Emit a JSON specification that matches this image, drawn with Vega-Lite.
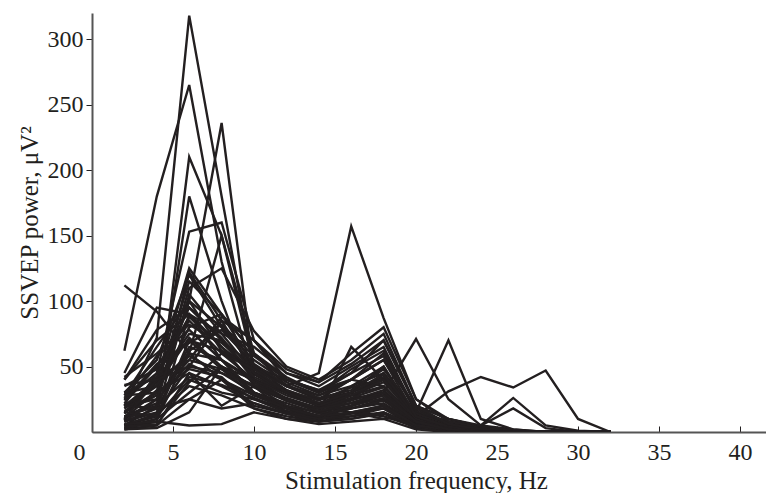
{
  "$schema": "https://vega.github.io/schema/vega-lite/v6.json",
  "width": 674,
  "height": 419,
  "autosize": "none",
  "padding": {"left": 92, "top": 13, "right": 0, "bottom": 61},
  "background": "white",
  "config": {"view": {"stroke": null}, "font": "Liberation Serif"},
  "data": {"values": [
{"s":1,"f":2,"v":20},{"s":1,"f":4,"v":72},{"s":1,"f":6,"v":318},{"s":1,"f":8,"v":180},{"s":1,"f":10,"v":45},{"s":1,"f":12,"v":30},{"s":1,"f":14,"v":20},{"s":1,"f":16,"v":35},{"s":1,"f":18,"v":50},{"s":1,"f":20,"v":10},{"s":1,"f":22,"v":5},{"s":1,"f":24,"v":2},{"s":1,"f":26,"v":1},{"s":1,"f":28,"v":0},{"s":1,"f":30,"v":0},{"s":1,"f":32,"v":0},
{"s":2,"f":2,"v":62},{"s":2,"f":4,"v":180},{"s":2,"f":6,"v":265},{"s":2,"f":8,"v":130},{"s":2,"f":10,"v":40},{"s":2,"f":12,"v":25},{"s":2,"f":14,"v":15},{"s":2,"f":16,"v":20},{"s":2,"f":18,"v":30},{"s":2,"f":20,"v":8},{"s":2,"f":22,"v":3},{"s":2,"f":24,"v":1},{"s":2,"f":26,"v":0},{"s":2,"f":28,"v":0},{"s":2,"f":30,"v":0},{"s":2,"f":32,"v":0},
{"s":3,"f":2,"v":15},{"s":3,"f":4,"v":30},{"s":3,"f":6,"v":100},{"s":3,"f":8,"v":236},{"s":3,"f":10,"v":44},{"s":3,"f":12,"v":30},{"s":3,"f":14,"v":20},{"s":3,"f":16,"v":25},{"s":3,"f":18,"v":45},{"s":3,"f":20,"v":12},{"s":3,"f":22,"v":5},{"s":3,"f":24,"v":2},{"s":3,"f":26,"v":0},{"s":3,"f":28,"v":0},{"s":3,"f":30,"v":0},{"s":3,"f":32,"v":0},
{"s":4,"f":2,"v":5},{"s":4,"f":4,"v":12},{"s":4,"f":6,"v":210},{"s":4,"f":8,"v":150},{"s":4,"f":10,"v":50},{"s":4,"f":12,"v":35},{"s":4,"f":14,"v":25},{"s":4,"f":16,"v":40},{"s":4,"f":18,"v":60},{"s":4,"f":20,"v":15},{"s":4,"f":22,"v":8},{"s":4,"f":24,"v":3},{"s":4,"f":26,"v":1},{"s":4,"f":28,"v":0},{"s":4,"f":30,"v":0},{"s":4,"f":32,"v":0},
{"s":5,"f":2,"v":12},{"s":5,"f":4,"v":20},{"s":5,"f":6,"v":180},{"s":5,"f":8,"v":100},{"s":5,"f":10,"v":35},{"s":5,"f":12,"v":20},{"s":5,"f":14,"v":12},{"s":5,"f":16,"v":18},{"s":5,"f":18,"v":25},{"s":5,"f":20,"v":5},{"s":5,"f":22,"v":2},{"s":5,"f":24,"v":1},{"s":5,"f":26,"v":0},{"s":5,"f":28,"v":0},{"s":5,"f":30,"v":0},{"s":5,"f":32,"v":0},
{"s":6,"f":2,"v":25},{"s":6,"f":4,"v":45},{"s":6,"f":6,"v":153},{"s":6,"f":8,"v":160},{"s":6,"f":10,"v":70},{"s":6,"f":12,"v":40},{"s":6,"f":14,"v":30},{"s":6,"f":16,"v":45},{"s":6,"f":18,"v":70},{"s":6,"f":20,"v":20},{"s":6,"f":22,"v":10},{"s":6,"f":24,"v":4},{"s":6,"f":26,"v":1},{"s":6,"f":28,"v":0},{"s":6,"f":30,"v":0},{"s":6,"f":32,"v":0},
{"s":7,"f":2,"v":18},{"s":7,"f":4,"v":35},{"s":7,"f":6,"v":60},{"s":7,"f":8,"v":150},{"s":7,"f":10,"v":60},{"s":7,"f":12,"v":35},{"s":7,"f":14,"v":45},{"s":7,"f":16,"v":157},{"s":7,"f":18,"v":87},{"s":7,"f":20,"v":25},{"s":7,"f":22,"v":10},{"s":7,"f":24,"v":4},{"s":7,"f":26,"v":1},{"s":7,"f":28,"v":0},{"s":7,"f":30,"v":0},{"s":7,"f":32,"v":0},
{"s":8,"f":2,"v":112},{"s":8,"f":4,"v":92},{"s":8,"f":6,"v":60},{"s":8,"f":8,"v":55},{"s":8,"f":10,"v":40},{"s":8,"f":12,"v":30},{"s":8,"f":14,"v":25},{"s":8,"f":16,"v":30},{"s":8,"f":18,"v":20},{"s":8,"f":20,"v":8},{"s":8,"f":22,"v":4},{"s":8,"f":24,"v":2},{"s":8,"f":26,"v":0},{"s":8,"f":28,"v":0},{"s":8,"f":30,"v":0},{"s":8,"f":32,"v":0},
{"s":9,"f":2,"v":40},{"s":9,"f":4,"v":78},{"s":9,"f":6,"v":95},{"s":9,"f":8,"v":70},{"s":9,"f":10,"v":50},{"s":9,"f":12,"v":40},{"s":9,"f":14,"v":30},{"s":9,"f":16,"v":40},{"s":9,"f":18,"v":35},{"s":9,"f":20,"v":10},{"s":9,"f":22,"v":5},{"s":9,"f":24,"v":1},{"s":9,"f":26,"v":0},{"s":9,"f":28,"v":0},{"s":9,"f":30,"v":0},{"s":9,"f":32,"v":0},
{"s":10,"f":2,"v":45},{"s":10,"f":4,"v":95},{"s":10,"f":6,"v":90},{"s":10,"f":8,"v":65},{"s":10,"f":10,"v":45},{"s":10,"f":12,"v":30},{"s":10,"f":14,"v":20},{"s":10,"f":16,"v":25},{"s":10,"f":18,"v":30},{"s":10,"f":20,"v":71},{"s":10,"f":22,"v":25},{"s":10,"f":24,"v":5},{"s":10,"f":26,"v":2},{"s":10,"f":28,"v":0},{"s":10,"f":30,"v":0},{"s":10,"f":32,"v":0},
{"s":11,"f":2,"v":30},{"s":11,"f":4,"v":55},{"s":11,"f":6,"v":120},{"s":11,"f":8,"v":80},{"s":11,"f":10,"v":50},{"s":11,"f":12,"v":35},{"s":11,"f":14,"v":25},{"s":11,"f":16,"v":30},{"s":11,"f":18,"v":40},{"s":11,"f":20,"v":15},{"s":11,"f":22,"v":70},{"s":11,"f":24,"v":10},{"s":11,"f":26,"v":2},{"s":11,"f":28,"v":0},{"s":11,"f":30,"v":0},{"s":11,"f":32,"v":0},
{"s":12,"f":2,"v":20},{"s":12,"f":4,"v":40},{"s":12,"f":6,"v":75},{"s":12,"f":8,"v":70},{"s":12,"f":10,"v":40},{"s":12,"f":12,"v":30},{"s":12,"f":14,"v":20},{"s":12,"f":16,"v":15},{"s":12,"f":18,"v":10},{"s":12,"f":20,"v":12},{"s":12,"f":22,"v":31},{"s":12,"f":24,"v":42},{"s":12,"f":26,"v":34},{"s":12,"f":28,"v":47},{"s":12,"f":30,"v":10},{"s":12,"f":32,"v":0},
{"s":13,"f":2,"v":5},{"s":13,"f":4,"v":20},{"s":13,"f":6,"v":122},{"s":13,"f":8,"v":85},{"s":13,"f":10,"v":45},{"s":13,"f":12,"v":30},{"s":13,"f":14,"v":20},{"s":13,"f":16,"v":25},{"s":13,"f":18,"v":30},{"s":13,"f":20,"v":10},{"s":13,"f":22,"v":5},{"s":13,"f":24,"v":5},{"s":13,"f":26,"v":26},{"s":13,"f":28,"v":5},{"s":13,"f":30,"v":1},{"s":13,"f":32,"v":0},
{"s":14,"f":2,"v":10},{"s":14,"f":4,"v":25},{"s":14,"f":6,"v":110},{"s":14,"f":8,"v":125},{"s":14,"f":10,"v":77},{"s":14,"f":12,"v":50},{"s":14,"f":14,"v":40},{"s":14,"f":16,"v":55},{"s":14,"f":18,"v":75},{"s":14,"f":20,"v":20},{"s":14,"f":22,"v":10},{"s":14,"f":24,"v":5},{"s":14,"f":26,"v":18},{"s":14,"f":28,"v":3},{"s":14,"f":30,"v":0},{"s":14,"f":32,"v":0},
{"s":15,"f":2,"v":40},{"s":15,"f":4,"v":70},{"s":15,"f":6,"v":90},{"s":15,"f":8,"v":75},{"s":15,"f":10,"v":65},{"s":15,"f":12,"v":45},{"s":15,"f":14,"v":35},{"s":15,"f":16,"v":50},{"s":15,"f":18,"v":65},{"s":15,"f":20,"v":15},{"s":15,"f":22,"v":6},{"s":15,"f":24,"v":2},{"s":15,"f":26,"v":0},{"s":15,"f":28,"v":0},{"s":15,"f":30,"v":0},{"s":15,"f":32,"v":0},
{"s":16,"f":2,"v":8},{"s":16,"f":4,"v":15},{"s":16,"f":6,"v":50},{"s":16,"f":8,"v":85},{"s":16,"f":10,"v":70},{"s":16,"f":12,"v":45},{"s":16,"f":14,"v":38},{"s":16,"f":16,"v":60},{"s":16,"f":18,"v":80},{"s":16,"f":20,"v":25},{"s":16,"f":22,"v":8},{"s":16,"f":24,"v":3},{"s":16,"f":26,"v":1},{"s":16,"f":28,"v":0},{"s":16,"f":30,"v":0},{"s":16,"f":32,"v":0},
{"s":17,"f":2,"v":3},{"s":17,"f":4,"v":8},{"s":17,"f":6,"v":5},{"s":17,"f":8,"v":6},{"s":17,"f":10,"v":15},{"s":17,"f":12,"v":10},{"s":17,"f":14,"v":8},{"s":17,"f":16,"v":12},{"s":17,"f":18,"v":15},{"s":17,"f":20,"v":5},{"s":17,"f":22,"v":2},{"s":17,"f":24,"v":0},{"s":17,"f":26,"v":0},{"s":17,"f":28,"v":0},{"s":17,"f":30,"v":0},{"s":17,"f":32,"v":0},
{"s":18,"f":2,"v":2},{"s":18,"f":4,"v":5},{"s":18,"f":6,"v":45},{"s":18,"f":8,"v":20},{"s":18,"f":10,"v":35},{"s":18,"f":12,"v":15},{"s":18,"f":14,"v":10},{"s":18,"f":16,"v":15},{"s":18,"f":18,"v":20},{"s":18,"f":20,"v":5},{"s":18,"f":22,"v":2},{"s":18,"f":24,"v":0},{"s":18,"f":26,"v":0},{"s":18,"f":28,"v":0},{"s":18,"f":30,"v":0},{"s":18,"f":32,"v":0},
{"s":19,"f":2,"v":15},{"s":19,"f":4,"v":28},{"s":19,"f":6,"v":55},{"s":19,"f":8,"v":48},{"s":19,"f":10,"v":35},{"s":19,"f":12,"v":25},{"s":19,"f":14,"v":18},{"s":19,"f":16,"v":22},{"s":19,"f":18,"v":30},{"s":19,"f":20,"v":8},{"s":19,"f":22,"v":3},{"s":19,"f":24,"v":1},{"s":19,"f":26,"v":0},{"s":19,"f":28,"v":0},{"s":19,"f":30,"v":0},{"s":19,"f":32,"v":0},
{"s":20,"f":2,"v":22},{"s":20,"f":4,"v":50},{"s":20,"f":6,"v":85},{"s":20,"f":8,"v":60},{"s":20,"f":10,"v":40},{"s":20,"f":12,"v":28},{"s":20,"f":14,"v":20},{"s":20,"f":16,"v":30},{"s":20,"f":18,"v":50},{"s":20,"f":20,"v":12},{"s":20,"f":22,"v":4},{"s":20,"f":24,"v":1},{"s":20,"f":26,"v":0},{"s":20,"f":28,"v":0},{"s":20,"f":30,"v":0},{"s":20,"f":32,"v":0},
{"s":21,"f":2,"v":28},{"s":21,"f":4,"v":65},{"s":21,"f":6,"v":100},{"s":21,"f":8,"v":80},{"s":21,"f":10,"v":55},{"s":21,"f":12,"v":38},{"s":21,"f":14,"v":28},{"s":21,"f":16,"v":40},{"s":21,"f":18,"v":55},{"s":21,"f":20,"v":18},{"s":21,"f":22,"v":6},{"s":21,"f":24,"v":2},{"s":21,"f":26,"v":0},{"s":21,"f":28,"v":0},{"s":21,"f":30,"v":0},{"s":21,"f":32,"v":0},
{"s":22,"f":2,"v":6},{"s":22,"f":4,"v":12},{"s":22,"f":6,"v":40},{"s":22,"f":8,"v":30},{"s":22,"f":10,"v":25},{"s":22,"f":12,"v":18},{"s":22,"f":14,"v":12},{"s":22,"f":16,"v":20},{"s":22,"f":18,"v":28},{"s":22,"f":20,"v":6},{"s":22,"f":22,"v":2},{"s":22,"f":24,"v":0},{"s":22,"f":26,"v":0},{"s":22,"f":28,"v":0},{"s":22,"f":30,"v":0},{"s":22,"f":32,"v":0},
{"s":23,"f":2,"v":12},{"s":23,"f":4,"v":22},{"s":23,"f":6,"v":65},{"s":23,"f":8,"v":55},{"s":23,"f":10,"v":30},{"s":23,"f":12,"v":20},{"s":23,"f":14,"v":15},{"s":23,"f":16,"v":65},{"s":23,"f":18,"v":40},{"s":23,"f":20,"v":10},{"s":23,"f":22,"v":3},{"s":23,"f":24,"v":1},{"s":23,"f":26,"v":0},{"s":23,"f":28,"v":0},{"s":23,"f":30,"v":0},{"s":23,"f":32,"v":0},
{"s":24,"f":2,"v":35},{"s":24,"f":4,"v":48},{"s":24,"f":6,"v":70},{"s":24,"f":8,"v":62},{"s":24,"f":10,"v":48},{"s":24,"f":12,"v":35},{"s":24,"f":14,"v":28},{"s":24,"f":16,"v":35},{"s":24,"f":18,"v":45},{"s":24,"f":20,"v":14},{"s":24,"f":22,"v":5},{"s":24,"f":24,"v":2},{"s":24,"f":26,"v":0},{"s":24,"f":28,"v":0},{"s":24,"f":30,"v":0},{"s":24,"f":32,"v":0},
{"s":25,"f":2,"v":10},{"s":25,"f":4,"v":32},{"s":25,"f":6,"v":80},{"s":25,"f":8,"v":90},{"s":25,"f":10,"v":60},{"s":25,"f":12,"v":42},{"s":25,"f":14,"v":30},{"s":25,"f":16,"v":48},{"s":25,"f":18,"v":62},{"s":25,"f":20,"v":16},{"s":25,"f":22,"v":8},{"s":25,"f":24,"v":3},{"s":25,"f":26,"v":1},{"s":25,"f":28,"v":0},{"s":25,"f":30,"v":0},{"s":25,"f":32,"v":0},
{"s":26,"f":2,"v":18},{"s":26,"f":4,"v":38},{"s":26,"f":6,"v":58},{"s":26,"f":8,"v":45},{"s":26,"f":10,"v":30},{"s":26,"f":12,"v":22},{"s":26,"f":14,"v":14},{"s":26,"f":16,"v":18},{"s":26,"f":18,"v":22},{"s":26,"f":20,"v":6},{"s":26,"f":22,"v":2},{"s":26,"f":24,"v":0},{"s":26,"f":26,"v":0},{"s":26,"f":28,"v":0},{"s":26,"f":30,"v":0},{"s":26,"f":32,"v":0},
{"s":27,"f":2,"v":4},{"s":27,"f":4,"v":10},{"s":27,"f":6,"v":30},{"s":27,"f":8,"v":50},{"s":27,"f":10,"v":40},{"s":27,"f":12,"v":25},{"s":27,"f":14,"v":18},{"s":27,"f":16,"v":28},{"s":27,"f":18,"v":35},{"s":27,"f":20,"v":10},{"s":27,"f":22,"v":3},{"s":27,"f":24,"v":1},{"s":27,"f":26,"v":0},{"s":27,"f":28,"v":0},{"s":27,"f":30,"v":0},{"s":27,"f":32,"v":0},
{"s":28,"f":2,"v":14},{"s":28,"f":4,"v":42},{"s":28,"f":6,"v":95},{"s":28,"f":8,"v":72},{"s":28,"f":10,"v":42},{"s":28,"f":12,"v":30},{"s":28,"f":14,"v":22},{"s":28,"f":16,"v":28},{"s":28,"f":18,"v":38},{"s":28,"f":20,"v":12},{"s":28,"f":22,"v":4},{"s":28,"f":24,"v":1},{"s":28,"f":26,"v":0},{"s":28,"f":28,"v":0},{"s":28,"f":30,"v":0},{"s":28,"f":32,"v":0},
{"s":29,"f":2,"v":20},{"s":29,"f":4,"v":25},{"s":29,"f":6,"v":52},{"s":29,"f":8,"v":40},{"s":29,"f":10,"v":28},{"s":29,"f":12,"v":18},{"s":29,"f":14,"v":10},{"s":29,"f":16,"v":14},{"s":29,"f":18,"v":18},{"s":29,"f":20,"v":5},{"s":29,"f":22,"v":2},{"s":29,"f":24,"v":0},{"s":29,"f":26,"v":0},{"s":29,"f":28,"v":0},{"s":29,"f":30,"v":0},{"s":29,"f":32,"v":0},
{"s":30,"f":2,"v":8},{"s":30,"f":4,"v":18},{"s":30,"f":6,"v":62},{"s":30,"f":8,"v":78},{"s":30,"f":10,"v":52},{"s":30,"f":12,"v":36},{"s":30,"f":14,"v":26},{"s":30,"f":16,"v":32},{"s":30,"f":18,"v":48},{"s":30,"f":20,"v":14},{"s":30,"f":22,"v":5},{"s":30,"f":24,"v":2},{"s":30,"f":26,"v":0},{"s":30,"f":28,"v":0},{"s":30,"f":30,"v":0},{"s":30,"f":32,"v":0},
{"s":31,"f":2,"v":26},{"s":31,"f":4,"v":58},{"s":31,"f":6,"v":78},{"s":31,"f":8,"v":55},{"s":31,"f":10,"v":38},{"s":31,"f":12,"v":26},{"s":31,"f":14,"v":18},{"s":31,"f":16,"v":24},{"s":31,"f":18,"v":32},{"s":31,"f":20,"v":9},{"s":31,"f":22,"v":3},{"s":31,"f":24,"v":1},{"s":31,"f":26,"v":0},{"s":31,"f":28,"v":0},{"s":31,"f":30,"v":0},{"s":31,"f":32,"v":0},
{"s":32,"f":2,"v":16},{"s":32,"f":4,"v":30},{"s":32,"f":6,"v":48},{"s":32,"f":8,"v":42},{"s":32,"f":10,"v":20},{"s":32,"f":12,"v":14},{"s":32,"f":14,"v":10},{"s":32,"f":16,"v":15},{"s":32,"f":18,"v":12},{"s":32,"f":20,"v":4},{"s":32,"f":22,"v":1},{"s":32,"f":24,"v":0},{"s":32,"f":26,"v":0},{"s":32,"f":28,"v":0},{"s":32,"f":30,"v":0},{"s":32,"f":32,"v":0},
{"s":33,"f":2,"v":5},{"s":33,"f":4,"v":14},{"s":33,"f":6,"v":35},{"s":33,"f":8,"v":28},{"s":33,"f":10,"v":18},{"s":33,"f":12,"v":12},{"s":33,"f":14,"v":8},{"s":33,"f":16,"v":10},{"s":33,"f":18,"v":14},{"s":33,"f":20,"v":3},{"s":33,"f":22,"v":1},{"s":33,"f":24,"v":0},{"s":33,"f":26,"v":0},{"s":33,"f":28,"v":0},{"s":33,"f":30,"v":0},{"s":33,"f":32,"v":0},
{"s":34,"f":2,"v":30},{"s":34,"f":4,"v":35},{"s":34,"f":6,"v":115},{"s":34,"f":8,"v":90},{"s":34,"f":10,"v":50},{"s":34,"f":12,"v":32},{"s":34,"f":14,"v":22},{"s":34,"f":16,"v":30},{"s":34,"f":18,"v":42},{"s":34,"f":20,"v":12},{"s":34,"f":22,"v":4},{"s":34,"f":24,"v":1},{"s":34,"f":26,"v":0},{"s":34,"f":28,"v":0},{"s":34,"f":30,"v":0},{"s":34,"f":32,"v":0},
{"s":35,"f":2,"v":24},{"s":35,"f":4,"v":52},{"s":35,"f":6,"v":68},{"s":35,"f":8,"v":82},{"s":35,"f":10,"v":58},{"s":35,"f":12,"v":40},{"s":35,"f":14,"v":32},{"s":35,"f":16,"v":45},{"s":35,"f":18,"v":58},{"s":35,"f":20,"v":18},{"s":35,"f":22,"v":6},{"s":35,"f":24,"v":2},{"s":35,"f":26,"v":0},{"s":35,"f":28,"v":0},{"s":35,"f":30,"v":0},{"s":35,"f":32,"v":0},
{"s":36,"f":2,"v":12},{"s":36,"f":4,"v":20},{"s":36,"f":6,"v":42},{"s":36,"f":8,"v":36},{"s":36,"f":10,"v":26},{"s":36,"f":12,"v":16},{"s":36,"f":14,"v":12},{"s":36,"f":16,"v":18},{"s":36,"f":18,"v":24},{"s":36,"f":20,"v":7},{"s":36,"f":22,"v":2},{"s":36,"f":24,"v":0},{"s":36,"f":26,"v":0},{"s":36,"f":28,"v":0},{"s":36,"f":30,"v":0},{"s":36,"f":32,"v":0},
{"s":37,"f":2,"v":9},{"s":37,"f":4,"v":45},{"s":37,"f":6,"v":88},{"s":37,"f":8,"v":65},{"s":37,"f":10,"v":36},{"s":37,"f":12,"v":24},{"s":37,"f":14,"v":16},{"s":37,"f":16,"v":20},{"s":37,"f":18,"v":26},{"s":37,"f":20,"v":7},{"s":37,"f":22,"v":2},{"s":37,"f":24,"v":0},{"s":37,"f":26,"v":0},{"s":37,"f":28,"v":0},{"s":37,"f":30,"v":0},{"s":37,"f":32,"v":0},
{"s":38,"f":2,"v":2},{"s":38,"f":4,"v":5},{"s":38,"f":6,"v":25},{"s":38,"f":8,"v":18},{"s":38,"f":10,"v":22},{"s":38,"f":12,"v":14},{"s":38,"f":14,"v":10},{"s":38,"f":16,"v":12},{"s":38,"f":18,"v":18},{"s":38,"f":20,"v":4},{"s":38,"f":22,"v":1},{"s":38,"f":24,"v":0},{"s":38,"f":26,"v":0},{"s":38,"f":28,"v":0},{"s":38,"f":30,"v":0},{"s":38,"f":32,"v":0},
{"s":39,"f":2,"v":20},{"s":39,"f":4,"v":36},{"s":39,"f":6,"v":72},{"s":39,"f":8,"v":50},{"s":39,"f":10,"v":34},{"s":39,"f":12,"v":24},{"s":39,"f":14,"v":18},{"s":39,"f":16,"v":26},{"s":39,"f":18,"v":34},{"s":39,"f":20,"v":10},{"s":39,"f":22,"v":3},{"s":39,"f":24,"v":1},{"s":39,"f":26,"v":0},{"s":39,"f":28,"v":0},{"s":39,"f":30,"v":0},{"s":39,"f":32,"v":0},
{"s":40,"f":2,"v":42},{"s":40,"f":4,"v":60},{"s":40,"f":6,"v":82},{"s":40,"f":8,"v":68},{"s":40,"f":10,"v":46},{"s":40,"f":12,"v":32},{"s":40,"f":14,"v":24},{"s":40,"f":16,"v":34},{"s":40,"f":18,"v":40},{"s":40,"f":20,"v":12},{"s":40,"f":22,"v":4},{"s":40,"f":24,"v":1},{"s":40,"f":26,"v":0},{"s":40,"f":28,"v":0},{"s":40,"f":30,"v":0},{"s":40,"f":32,"v":0},
{"s":41,"f":2,"v":3},{"s":41,"f":4,"v":10},{"s":41,"f":6,"v":60},{"s":41,"f":8,"v":40},{"s":41,"f":10,"v":25},{"s":41,"f":12,"v":15},{"s":41,"f":14,"v":10},{"s":41,"f":16,"v":14},{"s":41,"f":18,"v":20},{"s":41,"f":20,"v":5},{"s":41,"f":22,"v":2},{"s":41,"f":24,"v":0},{"s":41,"f":26,"v":0},{"s":41,"f":28,"v":0},{"s":41,"f":30,"v":0},{"s":41,"f":32,"v":0},
{"s":42,"f":2,"v":28},{"s":42,"f":4,"v":30},{"s":42,"f":6,"v":45},{"s":42,"f":8,"v":35},{"s":42,"f":10,"v":22},{"s":42,"f":12,"v":14},{"s":42,"f":14,"v":8},{"s":42,"f":16,"v":10},{"s":42,"f":18,"v":15},{"s":42,"f":20,"v":4},{"s":42,"f":22,"v":1},{"s":42,"f":24,"v":0},{"s":42,"f":26,"v":0},{"s":42,"f":28,"v":0},{"s":42,"f":30,"v":0},{"s":42,"f":32,"v":0},
{"s":43,"f":2,"v":6},{"s":43,"f":4,"v":8},{"s":43,"f":6,"v":90},{"s":43,"f":8,"v":55},{"s":43,"f":10,"v":30},{"s":43,"f":12,"v":20},{"s":43,"f":14,"v":12},{"s":43,"f":16,"v":15},{"s":43,"f":18,"v":18},{"s":43,"f":20,"v":5},{"s":43,"f":22,"v":2},{"s":43,"f":24,"v":0},{"s":43,"f":26,"v":0},{"s":43,"f":28,"v":0},{"s":43,"f":30,"v":0},{"s":43,"f":32,"v":0},
{"s":44,"f":2,"v":12},{"s":44,"f":4,"v":14},{"s":44,"f":6,"v":105},{"s":44,"f":8,"v":75},{"s":44,"f":10,"v":45},{"s":44,"f":12,"v":30},{"s":44,"f":14,"v":20},{"s":44,"f":16,"v":28},{"s":44,"f":18,"v":40},{"s":44,"f":20,"v":10},{"s":44,"f":22,"v":3},{"s":44,"f":24,"v":1},{"s":44,"f":26,"v":0},{"s":44,"f":28,"v":0},{"s":44,"f":30,"v":0},{"s":44,"f":32,"v":0},
{"s":45,"f":2,"v":4},{"s":45,"f":4,"v":6},{"s":45,"f":6,"v":38},{"s":45,"f":8,"v":60},{"s":45,"f":10,"v":48},{"s":45,"f":12,"v":30},{"s":45,"f":14,"v":22},{"s":45,"f":16,"v":30},{"s":45,"f":18,"v":44},{"s":45,"f":20,"v":12},{"s":45,"f":22,"v":4},{"s":45,"f":24,"v":1},{"s":45,"f":26,"v":0},{"s":45,"f":28,"v":0},{"s":45,"f":30,"v":0},{"s":45,"f":32,"v":0},
{"s":46,"f":2,"v":20},{"s":46,"f":4,"v":18},{"s":46,"f":6,"v":25},{"s":46,"f":8,"v":40},{"s":46,"f":10,"v":18},{"s":46,"f":12,"v":10},{"s":46,"f":14,"v":6},{"s":46,"f":16,"v":8},{"s":46,"f":18,"v":10},{"s":46,"f":20,"v":2},{"s":46,"f":22,"v":0},{"s":46,"f":24,"v":0},{"s":46,"f":26,"v":0},{"s":46,"f":28,"v":0},{"s":46,"f":30,"v":0},{"s":46,"f":32,"v":0},
{"s":47,"f":2,"v":10},{"s":47,"f":4,"v":40},{"s":47,"f":6,"v":125},{"s":47,"f":8,"v":90},{"s":47,"f":10,"v":60},{"s":47,"f":12,"v":40},{"s":47,"f":14,"v":32},{"s":47,"f":16,"v":40},{"s":47,"f":18,"v":55},{"s":47,"f":20,"v":12},{"s":47,"f":22,"v":4},{"s":47,"f":24,"v":1},{"s":47,"f":26,"v":0},{"s":47,"f":28,"v":0},{"s":47,"f":30,"v":0},{"s":47,"f":32,"v":0},
{"s":48,"f":2,"v":30},{"s":48,"f":4,"v":42},{"s":48,"f":6,"v":55},{"s":48,"f":8,"v":88},{"s":48,"f":10,"v":70},{"s":48,"f":12,"v":48},{"s":48,"f":14,"v":38},{"s":48,"f":16,"v":52},{"s":48,"f":18,"v":70},{"s":48,"f":20,"v":20},{"s":48,"f":22,"v":6},{"s":48,"f":24,"v":2},{"s":48,"f":26,"v":0},{"s":48,"f":28,"v":0},{"s":48,"f":30,"v":0},{"s":48,"f":32,"v":0},
{"s":49,"f":2,"v":2},{"s":49,"f":4,"v":3},{"s":49,"f":6,"v":15},{"s":49,"f":8,"v":50},{"s":49,"f":10,"v":30},{"s":49,"f":12,"v":18},{"s":49,"f":14,"v":12},{"s":49,"f":16,"v":15},{"s":49,"f":18,"v":20},{"s":49,"f":20,"v":5},{"s":49,"f":22,"v":2},{"s":49,"f":24,"v":0},{"s":49,"f":26,"v":0},{"s":49,"f":28,"v":0},{"s":49,"f":30,"v":0},{"s":49,"f":32,"v":0},
{"s":50,"f":2,"v":15},{"s":50,"f":4,"v":12},{"s":50,"f":6,"v":70},{"s":50,"f":8,"v":48},{"s":50,"f":10,"v":28},{"s":50,"f":12,"v":18},{"s":50,"f":14,"v":12},{"s":50,"f":16,"v":20},{"s":50,"f":18,"v":30},{"s":50,"f":20,"v":8},{"s":50,"f":22,"v":3},{"s":50,"f":24,"v":1},{"s":50,"f":26,"v":0},{"s":50,"f":28,"v":0},{"s":50,"f":30,"v":0},{"s":50,"f":32,"v":0},
{"s":51,"f":2,"v":8},{"s":51,"f":4,"v":25},{"s":51,"f":6,"v":100},{"s":51,"f":8,"v":62},{"s":51,"f":10,"v":38},{"s":51,"f":12,"v":24},{"s":51,"f":14,"v":16},{"s":51,"f":16,"v":22},{"s":51,"f":18,"v":30},{"s":51,"f":20,"v":8},{"s":51,"f":22,"v":2},{"s":51,"f":24,"v":0},{"s":51,"f":26,"v":0},{"s":51,"f":28,"v":0},{"s":51,"f":30,"v":0},{"s":51,"f":32,"v":0},
{"s":52,"f":2,"v":36},{"s":52,"f":4,"v":40},{"s":52,"f":6,"v":50},{"s":52,"f":8,"v":45},{"s":52,"f":10,"v":36},{"s":52,"f":12,"v":25},{"s":52,"f":14,"v":18},{"s":52,"f":16,"v":22},{"s":52,"f":18,"v":28},{"s":52,"f":20,"v":8},{"s":52,"f":22,"v":2},{"s":52,"f":24,"v":0},{"s":52,"f":26,"v":0},{"s":52,"f":28,"v":0},{"s":52,"f":30,"v":0},{"s":52,"f":32,"v":0}
  ]},
  "mark": {"type": "line", "color": "#231f20", "strokeWidth": 2.4, "strokeJoin": "miter", "clip": true},
  "encoding": {
    "x": {
      "field": "f", "type": "quantitative",
      "scale": {"domain": [0, 41.6], "nice": false, "zero": false},
      "axis": {
        "values": [0, 5, 10, 15, 20, 25, 30, 35, 40],
        "title": "Stimulation frequency, Hz",
        "grid": false,
        "tickSize": -6,
        "tickColor": "#231f20",
        "domainColor": "#555555",
        "domainWidth": 2,
        "labelFont": "Liberation Serif",
        "labelFontSize": 24,
        "labelColor": "#231f20",
        "labelPadding": 14,
        "labelOffset": {"condition": {"test": "datum.value === 0", "value": -13}, "value": 0},
        "labelFlush": false,
        "titleFont": "Liberation Serif",
        "titleFontSize": 25,
        "titleFontWeight": "normal",
        "titleColor": "#231f20",
        "titlePadding": 4,
        "titleX": 324
      }
    },
    "y": {
      "field": "v", "type": "quantitative",
      "scale": {"domain": [0, 320], "nice": false},
      "axis": {
        "values": [50, 100, 150, 200, 250, 300],
        "title": "SSVEP power, μV²",
        "grid": false,
        "tickSize": 6,
        "tickColor": "#231f20",
        "domainColor": "#555555",
        "domainWidth": 2,
        "labelFont": "Liberation Serif",
        "labelFontSize": 24,
        "labelColor": "#231f20",
        "labelPadding": 3,
        "titleFont": "Liberation Serif",
        "titleFontSize": 25,
        "titleFontWeight": "normal",
        "titleColor": "#231f20",
        "titlePadding": 5
      }
    },
    "detail": {"field": "s", "type": "nominal"}
  }
}
